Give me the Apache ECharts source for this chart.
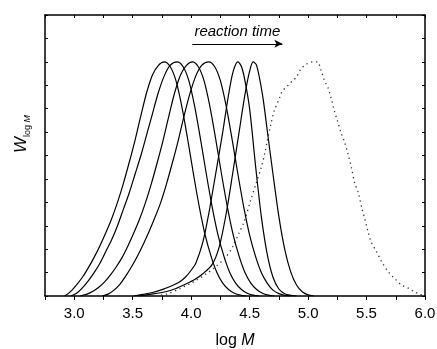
<!DOCTYPE html>
<html>
<head>
<meta charset="utf-8">
<script src="https://cdn.jsdelivr.net/npm/echarts@6/dist/echarts.min.js"></script>
<style>
html,body{margin:0;padding:0;background:#fff;}
#chart{width:437px;height:349px;}
</style>
</head>
<body>
<div id="chart"></div>
<script>
// ---- data (x = log M, y = normalised w_log M) ----
const curve1 = [[2.92,0],[2.97,0.02],[3.02,0.048],[3.07,0.08],[3.12,0.12],[3.17,0.165],[3.22,0.215],[3.27,0.27],[3.32,0.33],[3.37,0.40],[3.42,0.48],[3.47,0.57],[3.52,0.665],[3.57,0.77],[3.62,0.87],[3.67,0.945],[3.72,0.985],[3.77,1.0],[3.82,0.98],[3.87,0.92],[3.92,0.81],[3.97,0.67],[4.02,0.52],[4.07,0.38],[4.12,0.26],[4.17,0.17],[4.22,0.10],[4.27,0.055],[4.32,0.028],[4.37,0.012],[4.42,0.004],[4.47,0]];
const curve2 = [[2.97,0],[3.02,0.012],[3.07,0.035],[3.12,0.065],[3.17,0.10],[3.22,0.14],[3.27,0.19],[3.32,0.24],[3.37,0.30],[3.42,0.37],[3.47,0.44],[3.52,0.52],[3.57,0.60],[3.62,0.69],[3.67,0.78],[3.72,0.87],[3.77,0.94],[3.82,0.985],[3.88,1.0],[3.93,0.98],[3.98,0.92],[4.03,0.81],[4.08,0.67],[4.13,0.52],[4.18,0.38],[4.23,0.26],[4.28,0.17],[4.33,0.10],[4.38,0.055],[4.43,0.028],[4.48,0.012],[4.53,0.004],[4.58,0]];
const curve3 = [[3.05,0],[3.11,0.008],[3.16,0.02],[3.21,0.037],[3.26,0.06],[3.31,0.09],[3.36,0.125],[3.41,0.165],[3.46,0.215],[3.51,0.27],[3.56,0.33],[3.61,0.40],[3.66,0.48],[3.71,0.57],[3.76,0.665],[3.81,0.77],[3.86,0.87],[3.91,0.945],[3.96,0.985],[4.01,1.0],[4.06,0.98],[4.11,0.92],[4.16,0.81],[4.21,0.67],[4.26,0.52],[4.31,0.38],[4.36,0.26],[4.41,0.17],[4.46,0.10],[4.51,0.055],[4.56,0.028],[4.61,0.012],[4.66,0.004],[4.71,0]];
const curve4 = [[3.24,0],[3.29,0.008],[3.34,0.025],[3.39,0.05],[3.44,0.085],[3.49,0.125],[3.54,0.17],[3.59,0.22],[3.64,0.275],[3.69,0.335],[3.74,0.40],[3.79,0.48],[3.84,0.57],[3.89,0.665],[3.94,0.77],[3.99,0.865],[4.04,0.94],[4.09,0.985],[4.15,1.0],[4.20,0.98],[4.25,0.92],[4.30,0.81],[4.35,0.67],[4.40,0.52],[4.45,0.38],[4.50,0.26],[4.55,0.17],[4.60,0.10],[4.65,0.055],[4.70,0.025],[4.75,0.01],[4.80,0.003],[4.85,0]];
const curve5 = [[3.51,0],[3.60,0.008],[3.67,0.015],[3.75,0.027],[3.84,0.045],[3.90,0.06],[3.95,0.08],[4.00,0.11],[4.04,0.14],[4.10,0.23],[4.15,0.35],[4.21,0.523],[4.27,0.70],[4.32,0.86],[4.36,0.96],[4.40,1.0],[4.43,0.98],[4.46,0.92],[4.50,0.80],[4.55,0.56],[4.60,0.34],[4.65,0.18],[4.70,0.08],[4.75,0.03],[4.80,0.01],[4.85,0.003],[4.90,0]];
const curve6 = [[3.55,0],[3.65,0.007],[3.78,0.018],[3.87,0.032],[3.95,0.05],[4.03,0.07],[4.10,0.095],[4.18,0.135],[4.24,0.21],[4.30,0.353],[4.355,0.523],[4.41,0.70],[4.46,0.86],[4.50,0.96],[4.53,1.0],[4.56,0.985],[4.61,0.86],[4.65,0.71],[4.70,0.52],[4.75,0.34],[4.80,0.20],[4.85,0.105],[4.90,0.048],[4.95,0.018],[5.00,0.005],[5.05,0]];
const dottedCurve = [[3.70,0],[3.80,0.01],[3.90,0.03],[3.95,0.043],[4.00,0.055],[4.04,0.066],[4.13,0.095],[4.21,0.125],[4.30,0.168],[4.355,0.21],[4.41,0.27],[4.455,0.32],[4.51,0.41],[4.555,0.48],[4.60,0.55],[4.63,0.61],[4.65,0.66],[4.68,0.73],[4.71,0.79],[4.755,0.845],[4.78,0.875],[4.83,0.90],[4.865,0.918],[4.90,0.935],[4.94,0.97],[4.985,0.99],[5.04,1.0],[5.08,1.0],[5.11,0.965],[5.14,0.92],[5.17,0.89],[5.20,0.84],[5.225,0.79],[5.25,0.75],[5.28,0.70],[5.31,0.66],[5.34,0.61],[5.37,0.55],[5.40,0.48],[5.43,0.44],[5.46,0.375],[5.485,0.33],[5.51,0.28],[5.54,0.23],[5.585,0.19],[5.63,0.146],[5.685,0.104],[5.74,0.075],[5.80,0.047],[5.86,0.033],[5.91,0.018],[5.96,0.007],[6.0,0]];
const xTickLabels = ['3.0','3.5','4.0','4.5','5.0','5.5','6.0'];
const arrowStart = [4.01, 1.077];
const arrowEnd = [4.78, 1.077];
const annotation = 'reaction time';

const FONT = 'Liberation Sans, Arial, sans-serif';
const chart = echarts.init(document.getElementById('chart'), null, {renderer: 'canvas'});

const solidStyle = {color: '#000', width: 1.2};
function solid(data) {
  return {type: 'line', data: data, showSymbol: false, smooth: 0.3, silent: true,
    lineStyle: solidStyle, xAxisIndex: 0, yAxisIndex: 0, z: 3};
}

const series = [curve1, curve2, curve3, curve4, curve5, curve6].map(solid);
series.push({
  type: 'line', data: dottedCurve, showSymbol: false, smooth: 0.3, silent: true,
  lineStyle: {color: '#333', width: 1.3, type: [1.3, 3.6]}, z: 2
});
// arrow annotation
series.push({
  type: 'line', data: [], silent: true,
  markLine: {
    silent: true, animation: false,
    symbol: ['none', 'arrow'], symbolSize: [6, 8],
    lineStyle: {color: '#000', width: 1.2, type: 'solid'},
    label: {show: true, position: 'middle', formatter: annotation, distance: 4,
      fontFamily: FONT, fontStyle: 'italic', fontSize: 15, color: '#000'},
    data: [[{coord: arrowStart}, {coord: arrowEnd}]]
  }
});

const tickFmt = function (v) {
  const s = v.toFixed(1);
  return (Math.abs(v * 2 - Math.round(v * 2)) < 1e-6 && xTickLabels.indexOf(s) >= 0) ? s : '';
};

const axisLine = {show: true, onZero: false, lineStyle: {color: '#000', width: 1.5}};

chart.setOption({
  animation: false,
  backgroundColor: '#fff',
  grid: {left: 45, right: 12, top: 15, bottom: 53, containLabel: false, outerBoundsMode: 'none'},
  xAxis: [{
    type: 'value', min: 2.75, max: 6.0, interval: 0.25, position: 'bottom',
    axisLine: axisLine,
    axisTick: {show: true, inside: false, length: 4, lineStyle: {color: '#000', width: 1}},
    axisLabel: {show: true, formatter: tickFmt, margin: 10, fontFamily: FONT, fontSize: 15, color: '#000', showMinLabel: true, showMaxLabel: true},
    splitLine: {show: false},
    name: '{n|log }{i|M}', nameLocation: 'middle', nameGap: 37,
    nameTextStyle: {rich: {
      n: {fontFamily: FONT, fontSize: 16, color: '#000'},
      i: {fontFamily: FONT, fontSize: 16, fontStyle: 'italic', color: '#000'}
    }}
  }, {
    type: 'value', min: 2.75, max: 6.0, interval: 0.25, position: 'top',
    axisLine: axisLine,
    axisTick: {show: true, inside: true, length: 3, lineStyle: {color: '#000', width: 1}},
    axisLabel: {show: false}, splitLine: {show: false}
  }],
  yAxis: [{
    type: 'value', min: 0, max: 1.2, interval: 0.1, position: 'left',
    axisLine: axisLine,
    axisTick: {show: true, inside: true, length: 3, lineStyle: {color: '#000', width: 1}},
    axisLabel: {show: false}, splitLine: {show: false}
  }, {
    type: 'value', min: 0, max: 1.2, interval: 0.1, position: 'right',
    axisLine: axisLine,
    axisTick: {show: true, inside: true, length: 3, lineStyle: {color: '#000', width: 1}},
    axisLabel: {show: false}, splitLine: {show: false}
  }],
  graphic: [{
    type: 'text', x: 21, y: 134, rotation: Math.PI / 2, silent: true,
    style: {
      text: '{w|W}{s|log }{m|M}',
      align: 'center', verticalAlign: 'middle',
      rich: {
        w: {fontFamily: FONT, fontSize: 17, fontStyle: 'italic', color: '#000', verticalAlign: 'middle', lineHeight: 22},
        s: {fontFamily: FONT, fontSize: 9, color: '#000', verticalAlign: 'bottom', lineHeight: 22, padding: [8, 0, 0, 0]},
        m: {fontFamily: FONT, fontSize: 9, fontStyle: 'italic', color: '#000', verticalAlign: 'bottom', lineHeight: 22, padding: [8, 0, 0, 0]}
      }
    }
  }],
  series: series
});
</script>
</body>
</html>
